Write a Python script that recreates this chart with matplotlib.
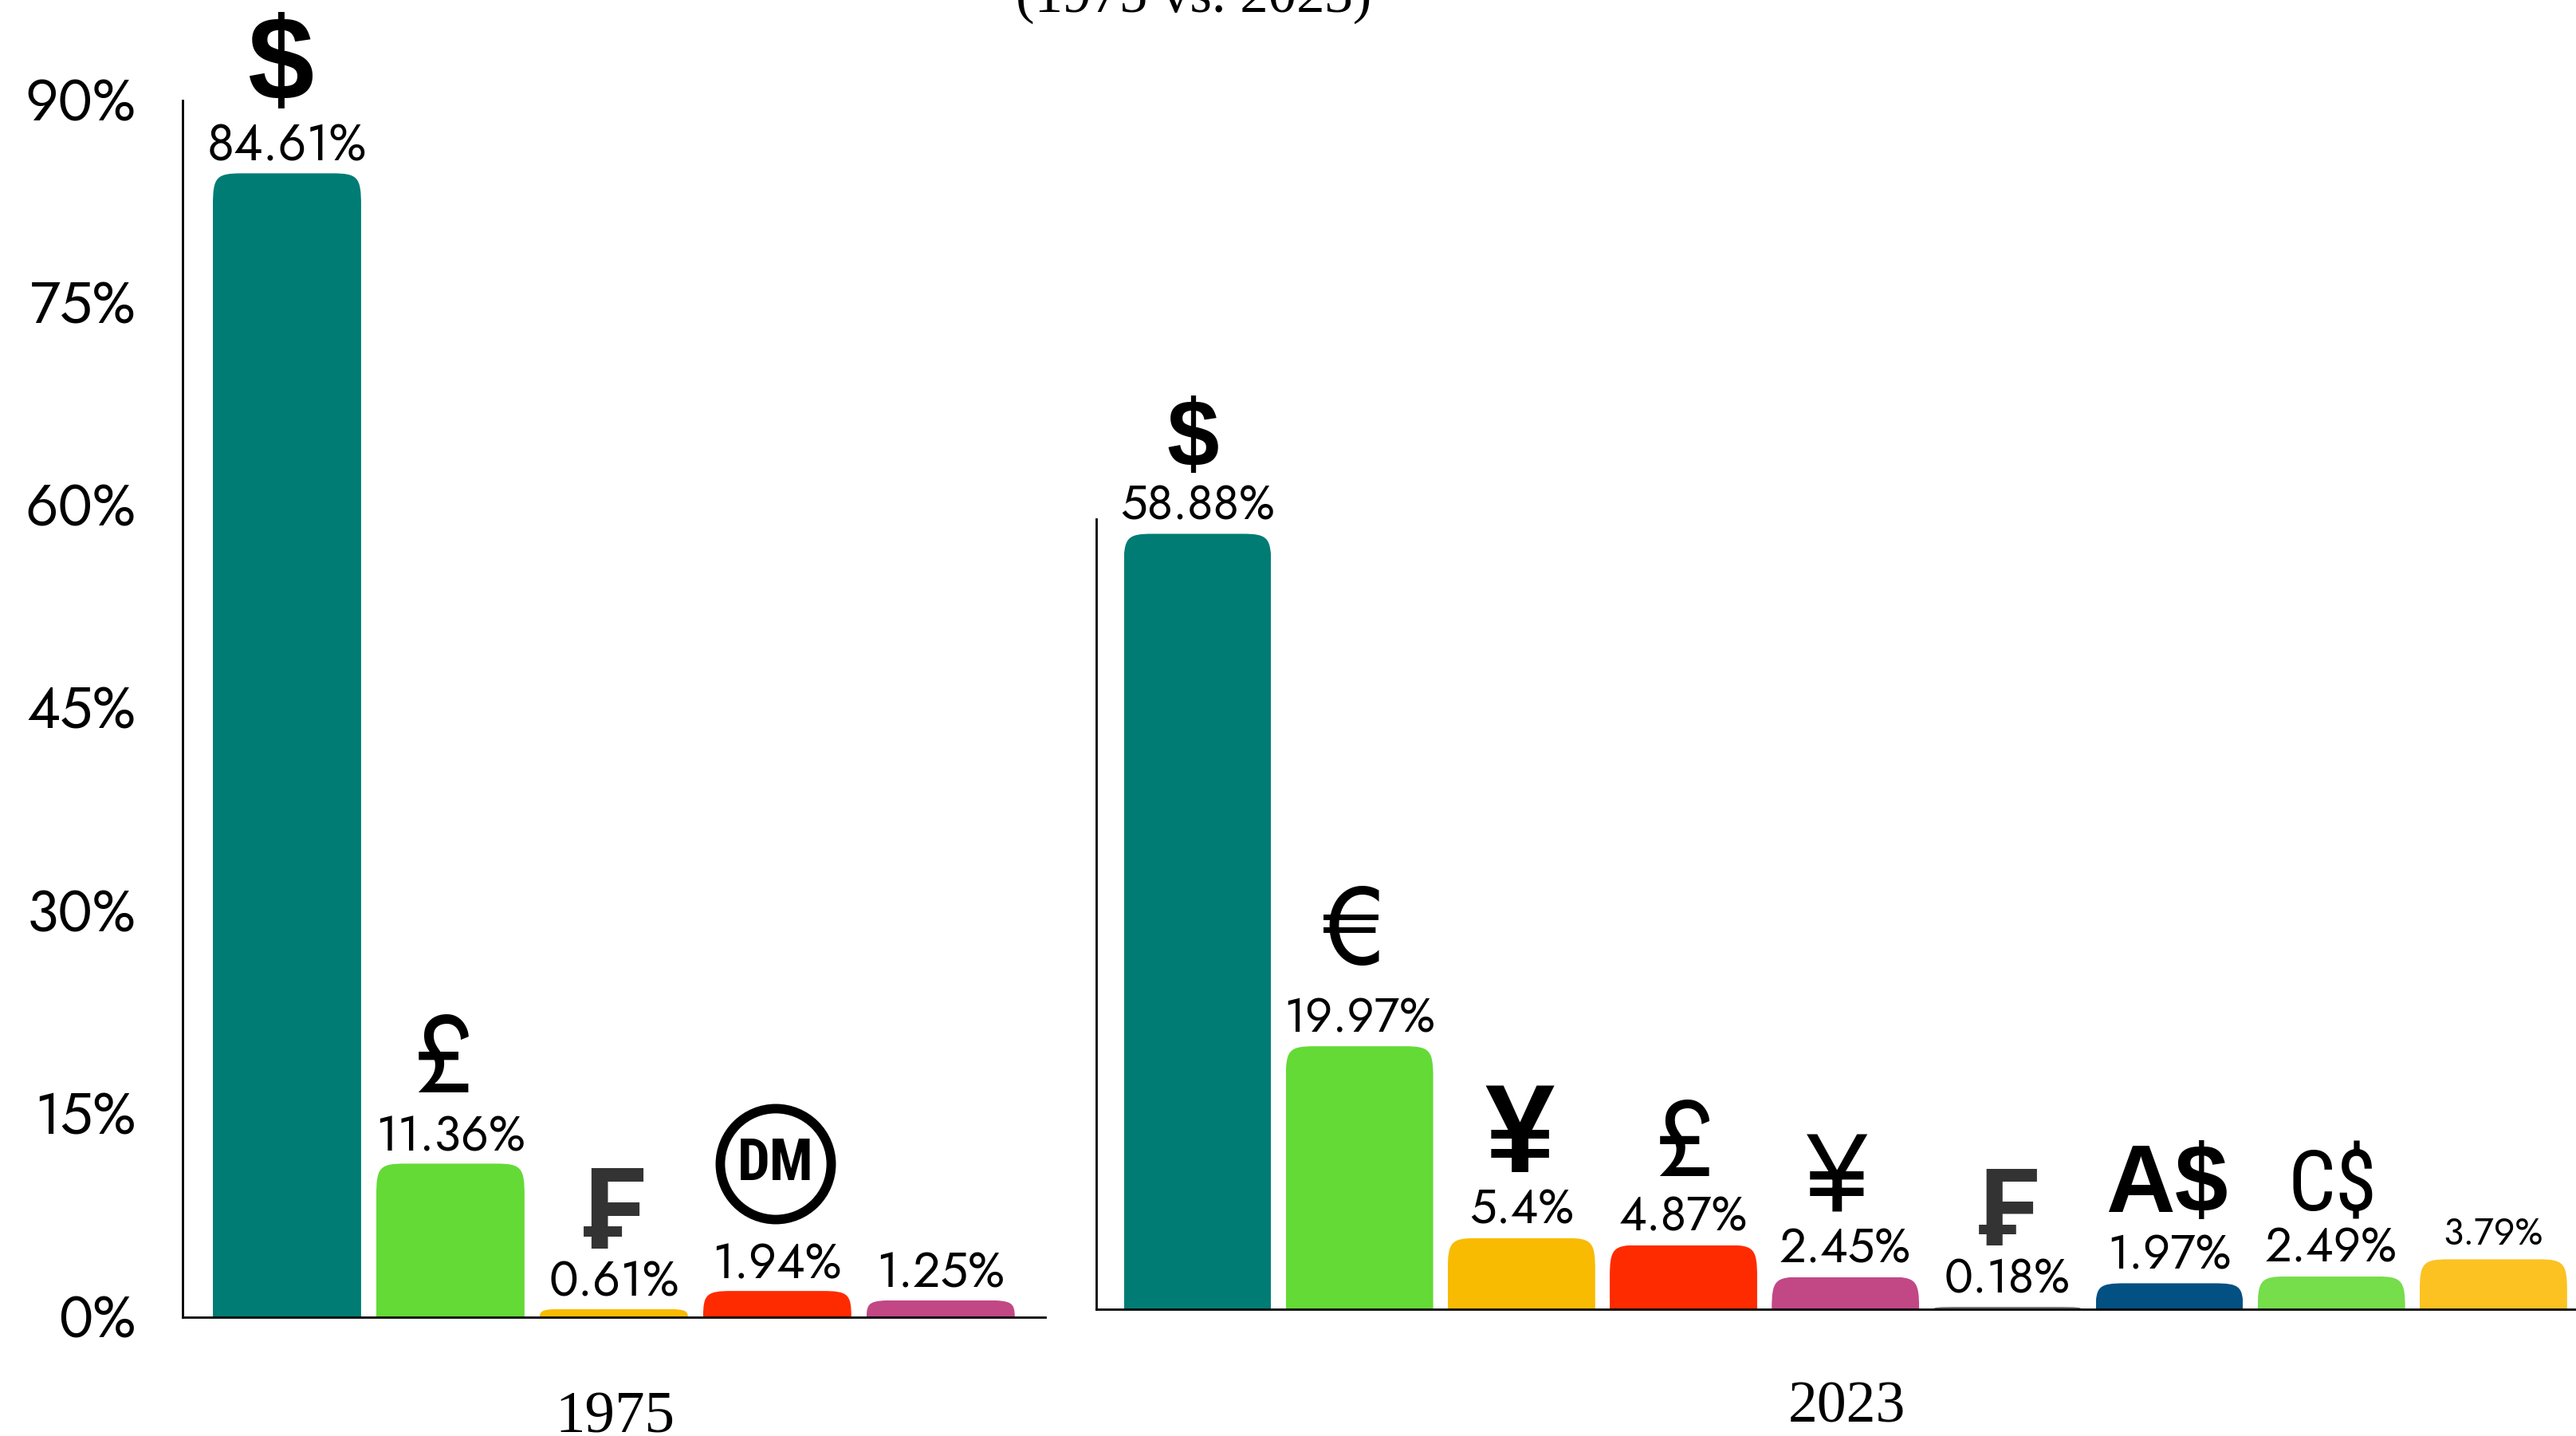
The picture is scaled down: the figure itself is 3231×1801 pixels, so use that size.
import matplotlib
matplotlib.use("Agg")
import logging
logging.getLogger("matplotlib.font_manager").setLevel(logging.ERROR)
import matplotlib.pyplot as plt
from matplotlib.path import Path
from matplotlib.textpath import TextPath
from matplotlib.font_manager import FontProperties
from matplotlib.transforms import ScaledTranslation

W, H = 3231, 1801
DPI = 100

# ---------- data ----------
values_1975 = [84.61, 11.36, 0.61, 1.94, 1.25]
labels_1975 = ["84.61%", "11.36%", "0.61%", "1.94%", "1.25%"]
colors_1975 = ["#007C74", "#64DA36", "#F8BB02", "#FF2B00", "#C14885"]

values_2023 = [58.88, 19.97, 5.4, 4.87, 2.45, 0.18, 1.97, 2.49, 3.79]
labels_2023 = ["58.88%", "19.97%", "5.4%", "4.87%", "2.45%", "0.18%", "1.97%", "2.49%", "3.79%"]
colors_2023 = ["#007C74", "#64DA36", "#F8BB02", "#FF2B00", "#C14885",
               "#777777", "#035082", "#76DD4B", "#FBC222"]

ytick_values = [0, 15, 30, 45, 60, 75, 90]
ytick_labels = ["0%", "15%", "30%", "45%", "60%", "75%", "90%"]

# ---------- fonts ----------
FUTURA = ["Jost", "Lato", "DejaVu Sans"]
SERIF = ["Liberation Serif", "DejaVu Serif"]
SANS = ["Liberation Sans", "DejaVu Sans"]
CONDENSED = ["Roboto Condensed", "Liberation Sans", "DejaVu Sans"]
HEAVY = ["Roboto", "DejaVu Sans"]

plt.rcParams["font.family"] = FUTURA
fig = plt.figure(figsize=(W / DPI, H / DPI), dpi=DPI, facecolor="white")


def make_axes(left, right, top, bottom):
    return fig.add_axes([left / W, 1 - bottom / H, (right - left) / W, (bottom - top) / H])


def px_text(x, y, s, **kw):
    return fig.text(x / W, 1 - y / H, s, **kw)


def glyph(s, x_mid, y_top, y_bot, family, weight="normal", color="black"):
    """Real text, sized and placed so its ink spans y_top..y_bot around x_mid."""
    prop = FontProperties(family=family, weight=weight)
    ext = TextPath((0, 0), s, size=100, prop=prop).get_extents()
    size_px = 100 * (y_bot - y_top) / ext.height
    k = size_px / 100
    base_y = y_bot + ext.y0 * k
    left_x = x_mid - (ext.x0 + ext.width / 2) * k
    px_text(left_x, base_y, s, family=family, weight=weight, color=color,
            fontsize=size_px * 72 / DPI, ha="left", va="baseline")


def rounded_bars(ax, values, colors, width, rx_px, ry_px):
    xs = list(range(len(values)))
    bars = ax.bar(xs, values, width=width, color=colors, linewidth=0, zorder=1)
    p0 = ax.transData.transform((0, 0))
    p1 = ax.transData.transform((1, 1))
    ux, uy = p1[0] - p0[0], p1[1] - p0[1]
    for rect, v in zip(bars, values):
        x0, x1 = rect.get_x(), rect.get_x() + rect.get_width()
        rx = rx_px / ux
        ry = min(ry_px / uy, v)
        c = 0.12
        verts = [(x0, 0), (x0, v - ry), (x0, v - ry * c), (x0 + rx * c, v), (x0 + rx, v),
                 (x1 - rx, v), (x1 - rx * c, v), (x1, v - ry * c), (x1, v - ry),
                 (x1, 0), (x0, 0)]
        codes = [Path.MOVETO, Path.LINETO, Path.CURVE4, Path.CURVE4, Path.CURVE4,
                 Path.LINETO, Path.CURVE4, Path.CURVE4, Path.CURVE4,
                 Path.LINETO, Path.CLOSEPOLY]
        rect.set_clip_path(Path(verts, codes), ax.transData)


def style_axes(ax):
    for side in ("top", "right"):
        ax.spines[side].set_visible(False)
    for side in ("left", "bottom"):
        ax.spines[side].set_linewidth(2.0)
        ax.spines[side].set_color("black")
        ax.spines[side].set_zorder(3)
    ax.set_xticks([])
    ax.patch.set_alpha(0)


def value_labels(ax, values, labels, sizes, dy_px):
    for i, (v, s, fs) in enumerate(zip(values, labels, sizes)):
        ax.annotate(s, xy=(i, v), xytext=(0, dy_px), textcoords="offset pixels",
                    ha="center", va="baseline", fontsize=fs, color="black")


# ---------- 1975 ----------
ax1 = make_axes(229, 1311, 126, 1652)
ax1.set_xlim(-0.639, 4.64)
ax1.set_ylim(0, 90)
style_axes(ax1)
rounded_bars(ax1, values_1975, colors_1975, 0.907, 36, 40)
ax1.set_yticks(ytick_values)
ax1.set_yticklabels(ytick_labels, fontsize=52)
ax1.tick_params(axis="y", length=0, pad=42)
tick_shift = ScaledTranslation(0, 3 / DPI, fig.dpi_scale_trans)
for lab in ax1.get_yticklabels():
    lab.set_transform(lab.get_transform() + tick_shift)
value_labels(ax1, values_1975, labels_1975, [45, 44, 44, 44, 44], 16)

# ---------- 2023 ----------
ax2 = make_axes(1375, 3231, 651, 1642)
ax2.set_xlim(-0.625, 8.51)
ax2.set_ylim(0, 60)
style_axes(ax2)
ax2.set_yticks([])
rounded_bars(ax2, values_2023, colors_2023, 0.91, 36, 40)
value_labels(ax2, values_2023, labels_2023, [43, 43, 43, 43, 43, 43, 43, 43, 33.5], 18)

# ---------- currency symbols ----------
glyph("$", 352, 14, 136, SANS, "bold")
glyph("£", 556, 1272, 1370, FUTURA)
glyph("₣", 770, 1466, 1566, HEAVY, "bold", "#333333")
px_text(973, 1460, "DM", family=CONDENSED, weight="bold", fontsize=52, ha="center", va="center",
        bbox=dict(boxstyle="circle,pad=0.3", fc="none", ec="black", lw=8.5))

glyph("$", 1496, 497, 593, SANS, "bold")
glyph("€", 1695, 1112, 1211, FUTURA)
glyph("¥", 1906, 1362, 1470, SANS, "bold")
glyph("£", 2112, 1378, 1475, FUTURA)
glyph("¥", 2304, 1422, 1519, FUTURA)
glyph("₣", 2518, 1465, 1562, HEAVY, "bold", "#333333")
glyph("A$", 2718, 1431, 1529, SANS, "bold")
glyph("C$", 2926, 1431, 1529, CONDENSED)

# ---------- texts ----------
px_text(771, 1796, "1975", family=SERIF, fontsize=54, ha="center", va="baseline")
px_text(2316, 1783, "2023", family=SERIF, fontsize=53, ha="center", va="baseline")
px_text(1497, 15, "(1975 vs. 2023)", family=SERIF, fontsize=51, ha="center", va="baseline")

fig.savefig("out.png", dpi=DPI, facecolor="white")
